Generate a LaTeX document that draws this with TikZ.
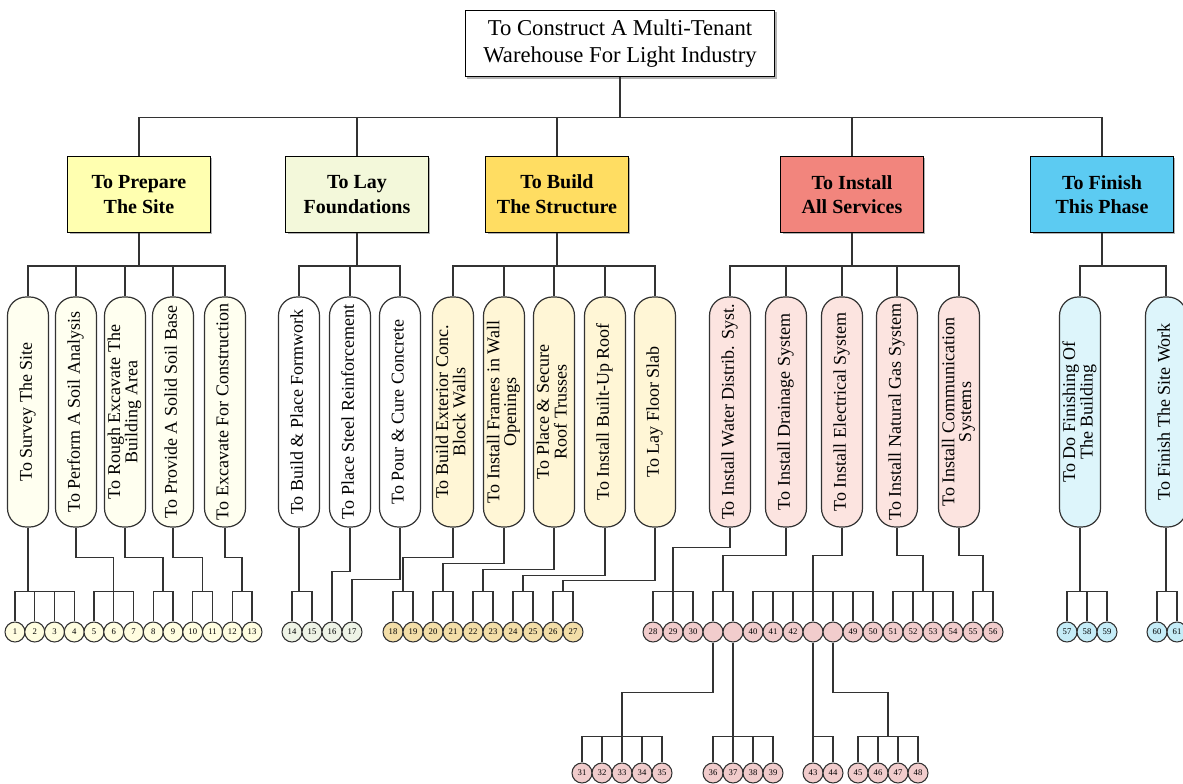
\documentclass[tikz,border=0pt]{standalone}
\usepackage{fontspec}
\setmainfont{Liberation Serif}
\usetikzlibrary{calc,shadows}

\definecolor{prepFill}{HTML}{FFFFB0}
\definecolor{foundFill}{HTML}{F3F8DA}
\definecolor{buildFill}{HTML}{FFDD62}
\definecolor{servFill}{HTML}{F2857D}
\definecolor{finFill}{HTML}{5CCBF2}
\definecolor{prepTask}{HTML}{FFFFF0}
\definecolor{foundTask}{HTML}{FFFFFF}
\definecolor{buildTask}{HTML}{FFF6D6}
\definecolor{servTask}{HTML}{FCE4E0}
\definecolor{finTask}{HTML}{DDF5FB}
\definecolor{prepPkg}{HTML}{FFFDE0}
\definecolor{foundPkg}{HTML}{EEF3E6}
\definecolor{buildPkg}{HTML}{F3DEA8}
\definecolor{servPkg}{HTML}{F1CCCC}
\definecolor{finPkg}{HTML}{C5ECF7}
\definecolor{wire}{HTML}{333333}

\renewcommand{\arraystretch}{0.92}
\newcommand{\vtext}[1]{\rotatebox{90}{\begin{tabular}{@{}c@{}}#1\end{tabular}}}

\tikzset{
  goal/.style={draw=black, line width=0.8pt, fill=white, minimum width=232pt, minimum height=50pt, align=center, font=\fontsize{17}{20}\selectfont, drop shadow={shadow xshift=1.5pt, shadow yshift=-1.5pt, fill=black!60}},
  phase/.style={draw=black, line width=0.8pt, minimum width=107pt, minimum height=57pt, align=center, font=\fontsize{15}{18.5}\selectfont\bfseries, drop shadow={shadow xshift=1.5pt, shadow yshift=-1.5pt, fill=black!60}},
  task/.style={draw=wire, line width=0.9pt, rounded corners=14pt, minimum width=30.75pt, minimum height=172.5pt, inner sep=0pt, font=\fontsize{13.5}{13.5}\selectfont},
  pkg/.style={circle, draw=wire, line width=0.8pt, minimum size=15pt, inner sep=0pt, font=\fontsize{6.5}{6.5}\selectfont},
  link/.style={draw=wire, line width=1.1pt},
}

\begin{document}
\begin{tikzpicture}[x=0.75pt, y=-0.75pt]
\useasboundingbox (0,0) rectangle (1183,784);
\clip (0,0) rectangle (1183,784);

\node[goal] (wbs) at (620,43.5) {To Construct A Multi-Tenant\\Warehouse For Light Industry};

\node[phase, fill=prepFill] (ph1) at (139,194.5) {To Prepare\\The Site};
\node[phase, fill=foundFill] (ph2) at (357,194.5) {To Lay\\Foundations};
\node[phase, fill=buildFill] (ph3) at (557,194.5) {To Build\\The Structure};
\node[phase, fill=servFill] (ph4) at (852,194.5) {To Install\\All Services};
\node[phase, fill=finFill] (ph5) at (1102,194.5) {To Finish\\This Phase};

\node[task, fill=prepTask] (t1) at (28,412) {\vtext{To Survey The Site}};
\node[task, fill=prepTask] (t2) at (76,412) {\vtext{To Perform A Soil Analysis}};
\node[task, fill=prepTask] (t3) at (125,412) {\vtext{To Rough Excavate The\\Building Area}};
\node[task, fill=prepTask] (t4) at (173,412) {\vtext{To Provide A Solid Soil Base}};
\node[task, fill=prepTask] (t5) at (225,412) {\vtext{To Excavate For Construction}};
\node[task, fill=foundTask] (t6) at (299,412) {\vtext{To Build \& Place Formwork}};
\node[task, fill=foundTask] (t7) at (350,412) {\vtext{To Place Steel Reinforcement}};
\node[task, fill=foundTask] (t8) at (400,412) {\vtext{To Pour \& Cure Concrete}};
\node[task, fill=buildTask] (t9) at (453,412) {\vtext{To Build Exterior Conc.\\Block Walls}};
\node[task, fill=buildTask] (t10) at (504,412) {\vtext{To Install Frames in Wall\\Openings}};
\node[task, fill=buildTask] (t11) at (554,412) {\vtext{To Place \& Secure\\Roof Trusses}};
\node[task, fill=buildTask] (t12) at (605,412) {\vtext{To Install Built-Up Roof}};
\node[task, fill=buildTask] (t13) at (655,412) {\vtext{To Lay Floor Slab}};
\node[task, fill=servTask] (t14) at (730,412) {\vtext{To Install Water Distrib. Syst.}};
\node[task, fill=servTask] (t15) at (786,412) {\vtext{To Install Drainage System}};
\node[task, fill=servTask] (t16) at (842,412) {\vtext{To Install Electrical System}};
\node[task, fill=servTask] (t17) at (897,412) {\vtext{To Install Natural Gas System}};
\node[task, fill=servTask] (t18) at (959,412) {\vtext{To Install Communication\\Systems}};
\node[task, fill=finTask] (t19) at (1080,412) {\vtext{To Do Finishing Of\\The Building}};
\node[task, fill=finTask] (t20) at (1166,412) {\vtext{To Finish The Site Work}};

\foreach \n [count=\i from 0] in {1,...,13}
  \node[pkg, fill=prepPkg] (c\n) at ({15+19.75*\i},632) {\n};
\foreach \n [count=\i from 0] in {14,...,17}
  \node[pkg, fill=foundPkg] (c\n) at ({292+20*\i},632) {\n};
\foreach \n [count=\i from 0] in {18,...,27}
  \node[pkg, fill=buildPkg] (c\n) at ({393+20*\i},632) {\n};
\foreach \nm/\lb [count=\i from 0] in {c28/28,c29/29,c30/30,w1/{},w2/{},c40/40,c41/41,c42/42,e1/{},e2/{},c49/49,c50/50,c51/51,c52/52,c53/53,c54/54,c55/55,c56/56}
  \node[pkg, fill=servPkg] (\nm) at ({653+20*\i},632) {\lb};
\foreach \n/\x in {57/1067,58/1087,59/1107,60/1157,61/1177}
  \node[pkg, fill=finPkg] (c\n) at (\x,632) {\n};
\foreach \n/\x in {31/582,32/602,33/622,34/642,35/662,36/713,37/733,38/753,39/773,43/813,44/833,45/858,46/878,47/898,48/918}
  \node[pkg, fill=servPkg] (c\n) at (\x,773) {\n};

\coordinate (busA) at (0,592);
\coordinate (m89) at ($(c8.north)!.5!(c9.north)+(0,-30)$);
\coordinate (m1011) at ($(c10.north)!.5!(c11.north)+(0,-30)$);
\coordinate (m1213) at ($(c12.north)!.5!(c13.north)+(0,-30)$);
\coordinate (m1819) at ($(c18.north)!.5!(c19.north)+(0,-30)$);
\coordinate (m2021) at ($(c20.north)!.5!(c21.north)+(0,-30)$);
\coordinate (m2223) at ($(c22.north)!.5!(c23.north)+(0,-30)$);
\coordinate (m2425) at ($(c24.north)!.5!(c25.north)+(0,-30)$);
\coordinate (m2627) at ($(c26.north)!.5!(c27.north)+(0,-30)$);
\coordinate (mw) at ($(w1.north)!.5!(w2.north)+(0,-30)$);
\coordinate (m5253) at ($(c52.north)!.5!(c53.north)+(0,-30)$);
\coordinate (m5556) at ($(c55.north)!.5!(c56.north)+(0,-30)$);
\coordinate (m4647) at ($(c46.north)!.5!(c47.north)+(0,-26)$);

\foreach \p in {ph1,ph2,ph3,ph4,ph5}
  \draw[link] (wbs.south) -- ++(0,40) -| (\p.north);
\foreach \i in {1,...,5}
  \draw[link] (ph1.south) -- ++(0,33) -| (t\i.north);
\foreach \i in {6,7,8}
  \draw[link] (ph2.south) -- ++(0,33) -| (t\i.north);
\foreach \i in {9,...,13}
  \draw[link] (ph3.south) -- ++(0,33) -| (t\i.north);
\foreach \i in {14,...,18}
  \draw[link] (ph4.south) -- ++(0,33) -| (t\i.north);
\foreach \i in {19,20}
  \draw[link] (ph5.south) -- ++(0,33) -| (t\i.north);

\draw[link] (c1.north) -- ++(0,-30) -| (c4.north);
\draw[link] (c5.north) -- ++(0,-30) -| (c7.north);
\draw[link] (c8.north) -- ++(0,-30) -| (c9.north);
\draw[link] (c10.north) -- ++(0,-30) -| (c11.north);
\draw[link] (c12.north) -- ++(0,-30) -| (c13.north);
\draw[link] (c14.north) -- ++(0,-30) -| (c15.north);
\draw[link] (c18.north) -- ++(0,-30) -| (c19.north);
\draw[link] (c20.north) -- ++(0,-30) -| (c21.north);
\draw[link] (c22.north) -- ++(0,-30) -| (c23.north);
\draw[link] (c24.north) -- ++(0,-30) -| (c25.north);
\draw[link] (c26.north) -- ++(0,-30) -| (c27.north);
\draw[link] (c28.north) -- ++(0,-30) -| (c30.north);
\draw[link] (w1.north) -- ++(0,-30) -| (w2.north);
\draw[link] (c40.north) -- ++(0,-30) -| (c50.north);
\draw[link] (c51.north) -- ++(0,-30) -| (c54.north);
\draw[link] (c55.north) -- ++(0,-30) -| (c56.north);
\draw[link] (c57.north) -- ++(0,-30) -| (c59.north);
\draw[link] (c60.north) -- ++(0,-30) -| (c61.north);
\foreach \n in {c2,c3,c41,c42,e2,c49,c52,c53,c58}
  \draw[link] (\n.north) -- ++(0,-30);

\draw[link] (t1.south) -- (t1.south |- busA);
\draw[link] (t2.south) -- ++(0,30) -| (c6.north);
\draw[link] (t3.south) -- ++(0,30) -| (m89);
\draw[link] (t4.south) -- ++(0,30) -| (m1011);
\draw[link] (t5.south) -- ++(0,30) -| (m1213);
\draw[link] (t6.south) -- (t6.south |- busA);
\draw[link] (t7.south) -- ++(0,44) -| (c16.north);
\draw[link] (t8.south) -- ++(0,52) -| (c17.north);
\draw[link] (t9.south) -- ++(0,30) -| (m1819);
\draw[link] (t10.south) -- ++(0,36) -| (m2021);
\draw[link] (t11.south) -- ++(0,42) -| (m2223);
\draw[link] (t12.south) -- ++(0,48) -| (m2425);
\draw[link] (t13.south) -- ++(0,53) -| (m2627);
\draw[link] (t14.south) -- ++(0,20) -| (c29.north);
\draw[link] (t15.south) -- ++(0,28) -| (mw);
\draw[link] (t16.south) -- ++(0,28) -| (e1.north);
\draw[link] (t17.south) -- ++(0,28) -| (m5253);
\draw[link] (t18.south) -- ++(0,28) -| (m5556);
\draw[link] (t19.south) -- (t19.south |- busA);
\draw[link] (t20.south) -- (t20.south |- busA);

\draw[link] (c31.north) -- ++(0,-26) -| (c35.north);
\draw[link] (c36.north) -- ++(0,-26) -| (c39.north);
\draw[link] (c43.north) -- ++(0,-26) -| (c44.north);
\draw[link] (c45.north) -- ++(0,-26) -| (c48.north);
\foreach \n in {c32,c34,c38,c46,c47}
  \draw[link] (\n.north) -- ++(0,-26);
\draw[link] (w1.south) -- ++(0,50) -| (c33.north);
\draw[link] (w2.south) -- (c37.north);
\draw[link] (e1.south) -- (c43.north);
\draw[link] (e2.south) -- ++(0,50) -| (m4647);
\end{tikzpicture}
\end{document}
